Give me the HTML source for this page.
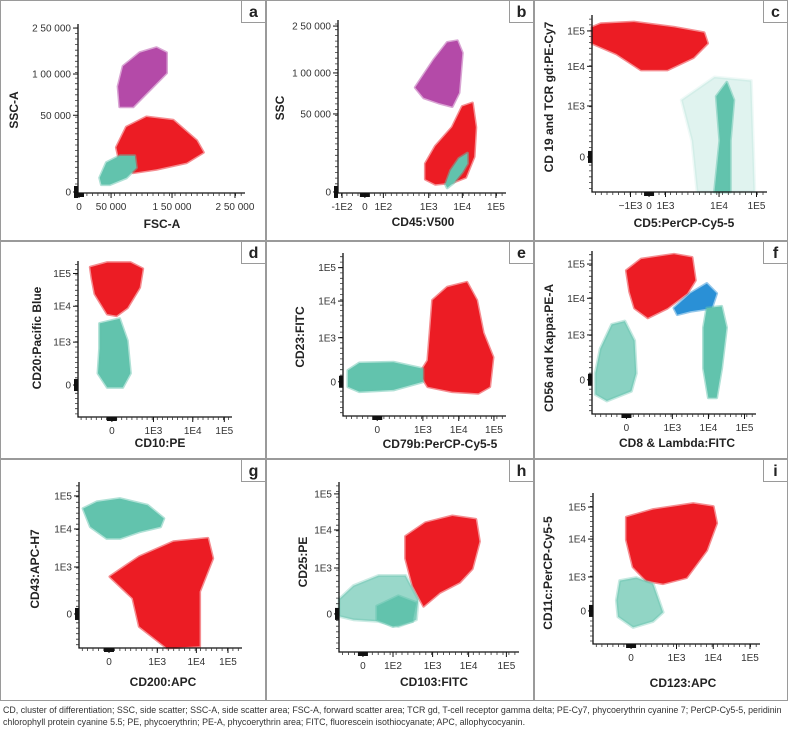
<!DOCTYPE html>
<html><head><meta charset="utf-8"><style>
html,body{margin:0;padding:0;background:#fff}
svg{display:block}
text{font-family:"Liberation Sans",sans-serif}
.cap{position:absolute;left:3px;top:704px;font:8.85px/12px "Liberation Sans",sans-serif;color:#333;width:786px;white-space:nowrap}
</style></head><body>
<div style="position:relative;width:788px;height:731px">
<svg id="fig" width="788" height="701"></svg>
<div class="cap">CD, cluster of differentiation; SSC, side scatter; SSC-A, side scatter area; FSC-A, forward scatter area; TCR gd, T-cell receptor gamma delta; PE-Cy7, phycoerythrin cyanine 7; PerCP-Cy5-5, peridinin<br>chlorophyll protein cyanine 5.5; PE, phycoerythrin; PE-A, phycoerythrin area; FITC, fluorescein isothiocyanate; APC, allophycocyanin.</div>
</div>
<script>
// ---- data (channel units 0-100 on each axis) ----
const aXTickVals=[0.6,19.8,56.3,94]; const aXTickLabels=["0","50 000","1 50 000","2 50 000"];
const aYTickVals=[0.6,46,70.4,97.6]; const aYTickLabels=["0","50 000","1 00 000","2 50 000"];
const aPurple=[[24,63],[27,75],[37,83],[47,86],[53,83],[53,71],[43,61],[33,51],[25,51]];
const aRed=[[23,27],[29,39],[41,45],[57,43],[71,31],[75,24],[65,18],[47,14],[33,12],[25,18]];
const aTeal=[[13,9],[17,18],[25,22],[34,22],[35,15],[29,9],[19,5],[14,5]];

const bXTickVals=[2.4,16,27,54,74,94]; const bXTickLabels=["-1E2","0","1E2","1E3","1E4","1E5"];
const bYTickVals=[0.6,45.7,69.4,96.5]; const bYTickLabels=["0","50 000","1 00 000","2 50 000"];
const bPurple=[[46,61],[57,77],[65,87],[71,88],[74,81],[72,58],[68,50],[60,52],[51,55]];
const bRed=[[52,17],[58,27],[68,38],[74,50],[80,52],[82,38],[81,21],[76,9],[68,6],[58,5],[52,8]];
const bTeal=[[64,5],[67,13],[72,20],[77,23],[77,17],[74,12],[69,6],[65,3]];

const cXTickVals=[22,32.6,42,72.6,94]; const cXTickLabels=["\u22121E3","0","1E3","1E4","1E5"];
const cYTickVals=[19.8,48.6,71,91]; const cYTickLabels=["0","1E3","1E4","1E5"];
const cRed=[[0,93],[5,95],[24,96],[47,93],[64,90],[66,84],[58,76],[43,69],[28,69],[14,78],[0,84]];
const cTealSparse=[[51,52],[70,65],[91,63],[93,0],[60,0],[57,29]];
const cTeal=[[71,54],[77,62],[81,52],[79,29],[79,0],[70,0],[73,29]];

const dXTickVals=[22,49,74.5,95]; const dXTickLabels=["0","1E3","1E4","1E5"];
const dYTickVals=[20.5,48,71,92]; const dYTickLabels=["0","1E3","1E4","1E5"];
const dRed=[[8,96],[19,99],[34,99],[42,95],[40,83],[32,70],[25,65],[19,66],[11,79],[9,89]];
const dTeal=[[14,60],[27,63],[32,49],[34,28],[29,19],[19,19],[13,28],[14,44]];

const eXTickVals=[21,49,71,92.6]; const eXTickLabels=["0","1E3","1E4","1E5"];
const eYTickVals=[21,48,70.5,91]; const eYTickLabels=["0","1E3","1E4","1E5"];
const eRed=[[52,34],[55,71],[64,79],[76,82],[82,71],[86,51],[92,36],[90,18],[83,14],[67,15],[52,18],[47,26]];
const eTeal=[[3,28],[10,32.5],[31,33],[49,29],[49,21],[31,16],[10,15],[3,18]];

const fXTickVals=[21,49,71,93]; const fXTickLabels=["0","1E3","1E4","1E5"];
const fYTickVals=[21,48.5,71,92]; const fYTickLabels=["0","1E3","1E4","1E5"];
const fRed=[[21,88],[30,95],[50,98],[61,96],[63,82],[58,74],[46,65],[34,59],[26,65],[23,75]];
const fBlue=[[50,65],[60,74],[70,80],[76,74],[73,65],[60,63],[52,61]];
const fTealRight=[[70,65],[79,66],[82,53],[79,28],[76,10],[71,10],[68,28],[68,53]];
const fTealLeft=[[2,25],[5,40],[12,55],[20,57],[26,45],[27,25],[24,14],[9,8],[2,12]];

const gXTickVals=[18.4,48,72,91.4]; const gXTickLabels=["0","1E3","1E4","1E5"];
const gYTickVals=[20.5,48.8,71.7,91.6]; const gYTickLabels=["0","1E3","1E4","1E5"];
const gTeal=[[2.5,84],[11,88],[25,90],[42,86],[52,78],[50,73],[37,70],[25,66],[17,66],[7,73]];
const gRed=[[19,43],[37,55],[58,64],[79,66],[82,54],[74,34],[74,1],[54,0],[37,13],[33,30]];

const hXTickVals=[13.3,30,52,72,93]; const hXTickLabels=["0","1E2","1E3","1E4","1E5"];
const hYTickVals=[22.4,49.4,71.8,93]; const hYTickLabels=["0","1E3","1E4","1E5"];
const hRed=[[37,68],[48,76],[63,80],[76,78],[78,65],[74,49],[67,41],[56,35],[47,27],[41,39],[37,55]];
const hTealSparse=[[0,31],[8,39],[22,45],[37,45],[44,31],[43,19],[33,15],[22,18],[8,19],[0,21]];
const hTeal=[[21,27],[33,33],[43,29],[41,18],[30,15],[21,19]];

const iXTickVals=[22.8,50,72,94]; const iXTickLabels=["0","1E3","1E4","1E5"];
const iYTickVals=[21.9,44.4,69.5,90.7]; const iYTickLabels=["0","1E3","1E4","1E5"];
const iRed=[[20,84],[36,89],[60,93],[72,91],[74,80],[68,62],[56,44],[42,40],[32,42],[24,51],[20,69]];
const iTeal=[[14,29],[16,42],[26,44],[36,40],[42,21],[36,15],[24,11],[15,18]];

const RED="#ec1c24",TEAL="#62c3ad",PURPLE="#b44aa8",BLUE="#2a90d6";
const NS="http://www.w3.org/2000/svg";
const svg=document.getElementById('fig');
function mk(tag,attrs,parent){const e=document.createElementNS(NS,tag);for(const k in attrs)e.setAttribute(k,attrs[k]);(parent||svg).appendChild(e);return e;}

const panels=[
 {id:'a',r:[0,0,266,241],box:[78,24,245,193],xt:"FSC-A",yt:"SSC-A",xtp:[162,228],ytp:[14,110],xv:aXTickVals,xl:aXTickLabels,yv:aYTickVals,yl:aYTickLabels,
  cl:[[aPurple,PURPLE,1,'purple'],[aRed,RED,1,'red'],[aTeal,TEAL,1,'teal']]},
 {id:'b',r:[266,0,268,241],box:[338,20,506,193],xt:"CD45:V500",yt:"SSC",xtp:[423,226],ytp:[280,108],xv:bXTickVals,xl:bXTickLabels,yv:bYTickVals,yl:bYTickLabels,
  cl:[[bPurple,PURPLE,1,'purple'],[bRed,RED,1,'red'],[bTeal,TEAL,1,'teal']]},
 {id:'c',r:[534,0,254,241],box:[592,15,767,192],xt:"CD5:PerCP-Cy5-5",yt:"CD 19 and TCR gd:PE-Cy7",xtp:[684,227],ytp:[549,97],xv:cXTickVals,xl:cXTickLabels,yv:cYTickVals,yl:cYTickLabels,
  cl:[[cRed,RED,1,'red'],[cTealSparse,TEAL,0.2,'teal-sparse'],[cTeal,TEAL,1,'teal']]},
 {id:'d',r:[0,241,266,218],box:[78,261,232,417],xt:"CD10:PE",yt:"CD20:Pacific Blue",xtp:[160,447],ytp:[37,338],xv:dXTickVals,xl:dXTickLabels,yv:dYTickVals,yl:dYTickLabels,
  cl:[[dRed,RED,1,'red'],[dTeal,TEAL,1,'teal']]},
 {id:'e',r:[266,241,268,218],box:[343,253,506,416],xt:"CD79b:PerCP-Cy5-5",yt:"CD23:FITC",xtp:[440,448],ytp:[300,337],xv:eXTickVals,xl:eXTickLabels,yv:eYTickVals,yl:eYTickLabels,
  cl:[[eRed,RED,1,'red'],[eTeal,TEAL,1,'teal']]},
 {id:'f',r:[534,241,254,218],box:[592,251,756,414],xt:"CD8 & Lambda:FITC",yt:"CD56 and Kappa:PE-A",xtp:[677,447],ytp:[549,348],xv:fXTickVals,xl:fXTickLabels,yv:fYTickVals,yl:fYTickLabels,
  cl:[[fRed,RED,1,'red'],[fBlue,BLUE,1,'blue'],[fTealRight,TEAL,1,'teal-right'],[fTealLeft,TEAL,0.75,'teal-left']]},
 {id:'g',r:[0,459,266,242],box:[79,482,242,648],xt:"CD200:APC",yt:"CD43:APC-H7",xtp:[163,686],ytp:[35,569],xv:gXTickVals,xl:gXTickLabels,yv:gYTickVals,yl:gYTickLabels,
  cl:[[gTeal,TEAL,1,'teal'],[gRed,RED,1,'red']]},
 {id:'h',r:[266,459,268,242],box:[339,482,519,652],xt:"CD103:FITC",yt:"CD25:PE",xtp:[434,686],ytp:[303,562],xv:hXTickVals,xl:hXTickLabels,yv:hYTickVals,yl:hYTickLabels,
  cl:[[hRed,RED,1,'red'],[hTealSparse,TEAL,0.65,'teal-sparse'],[hTeal,TEAL,1,'teal']]},
 {id:'i',r:[534,459,254,242],box:[593,493,760,644],xt:"CD123:APC",yt:"CD11c:PerCP-Cy5-5",xtp:[683,687],ytp:[548,573],xv:iXTickVals,xl:iXTickLabels,yv:iYTickVals,yl:iYTickLabels,
  cl:[[iRed,RED,1,'red'],[iTeal,TEAL,0.7,'teal']]}
];

panels.forEach(p=>{
  const g=mk('g',{});
  
  
  const [rx,ry,rw,rh]=p.r;
  const br=mk('rect',{x:rx+0.5,y:ry+0.5,width:rw-1,height:rh-1,fill:'none',stroke:'#9a9a9a','stroke-width':1},g);
  
  
  const lb=mk('rect',{x:rx+rw-24.5,y:ry+0.5,width:24,height:22,fill:'#fff',stroke:'#9a9a9a','stroke-width':1},g);
  
  
  const lt=mk('text',{x:rx+rw-12.5,y:ry+17,'text-anchor':'middle','font-size':16,'font-weight':'bold',fill:'#222'},g);
  lt.textContent=p.id;
  
  

  const [x0,y0,x1,y1]=p.box;
  const sx=v=>x0+v/100*(x1-x0);
  const sy=v=>y1-v/100*(y1-y0);
  p.cl.forEach(([pts,col,op,nm])=>{
    const d=pts.map(q=>sx(q[0]).toFixed(1)+','+sy(q[1]).toFixed(1)).join(' ');
    const pg=mk('polygon',{points:d,fill:col,'fill-opacity':op,stroke:col,'stroke-opacity':op*0.5,'stroke-width':3,'stroke-linejoin':'round'},g);
    
    
  });
  const ax=mk('path',{d:`M${x0},${y0} L${x0},${y1} L${x1},${y1}`,fill:'none',stroke:'#111','stroke-width':1.3},g);
  
  
  let md='';
  for(let v=2;v<100;v+=3.3){md+=`M${sx(v).toFixed(1)},${y1} v3 `;md+=`M${x0},${sy(v).toFixed(1)} h-3 `;}
  const mt=mk('path',{d:md,stroke:'#333','stroke-width':0.8},g);
  
  
  p.xv.forEach((v,k)=>{ if(p.xl[k]==="0"){const z=mk('rect',{x:sx(v)-5,y:y1,width:10,height:4,fill:'#111'},g);}});
  p.yv.forEach((v,k)=>{ if(p.yl[k]==="0"){const z=mk('rect',{x:x0-4,y:sy(v)-6,width:4,height:12,fill:'#111'},g);}});
  p.xv.forEach((v,k)=>{
    const t=mk('line',{x1:sx(v),x2:sx(v),y1:y1,y2:y1+5,stroke:'#111','stroke-width':1},g);
    
    
    const tl=mk('text',{x:sx(v),y:y1+17,'text-anchor':'middle','font-size':10,fill:'#333'},g);
    tl.textContent=p.xl[k];
    
    
  });
  p.yv.forEach((v,k)=>{
    const t=mk('line',{x1:x0-5,x2:x0,y1:sy(v),y2:sy(v),stroke:'#111','stroke-width':1},g);
    
    
    const tl=mk('text',{x:x0-7,y:sy(v)+3.5,'text-anchor':'end','font-size':10,fill:'#333'},g);
    tl.textContent=p.yl[k];
    
    
  });
  const xt=mk('text',{x:p.xtp[0],y:p.xtp[1],'text-anchor':'middle','font-size':12,'font-weight':'bold',fill:'#222'},g);
  xt.textContent=p.xt;
  
  
  const yt=mk('text',{x:0,y:0,'text-anchor':'middle','font-size':12,'font-weight':'bold',fill:'#222',transform:`translate(${p.ytp[0]+4},${p.ytp[1]}) rotate(-90)`},g);
  yt.textContent=p.yt;
  
  
});
</script>
</body></html>
